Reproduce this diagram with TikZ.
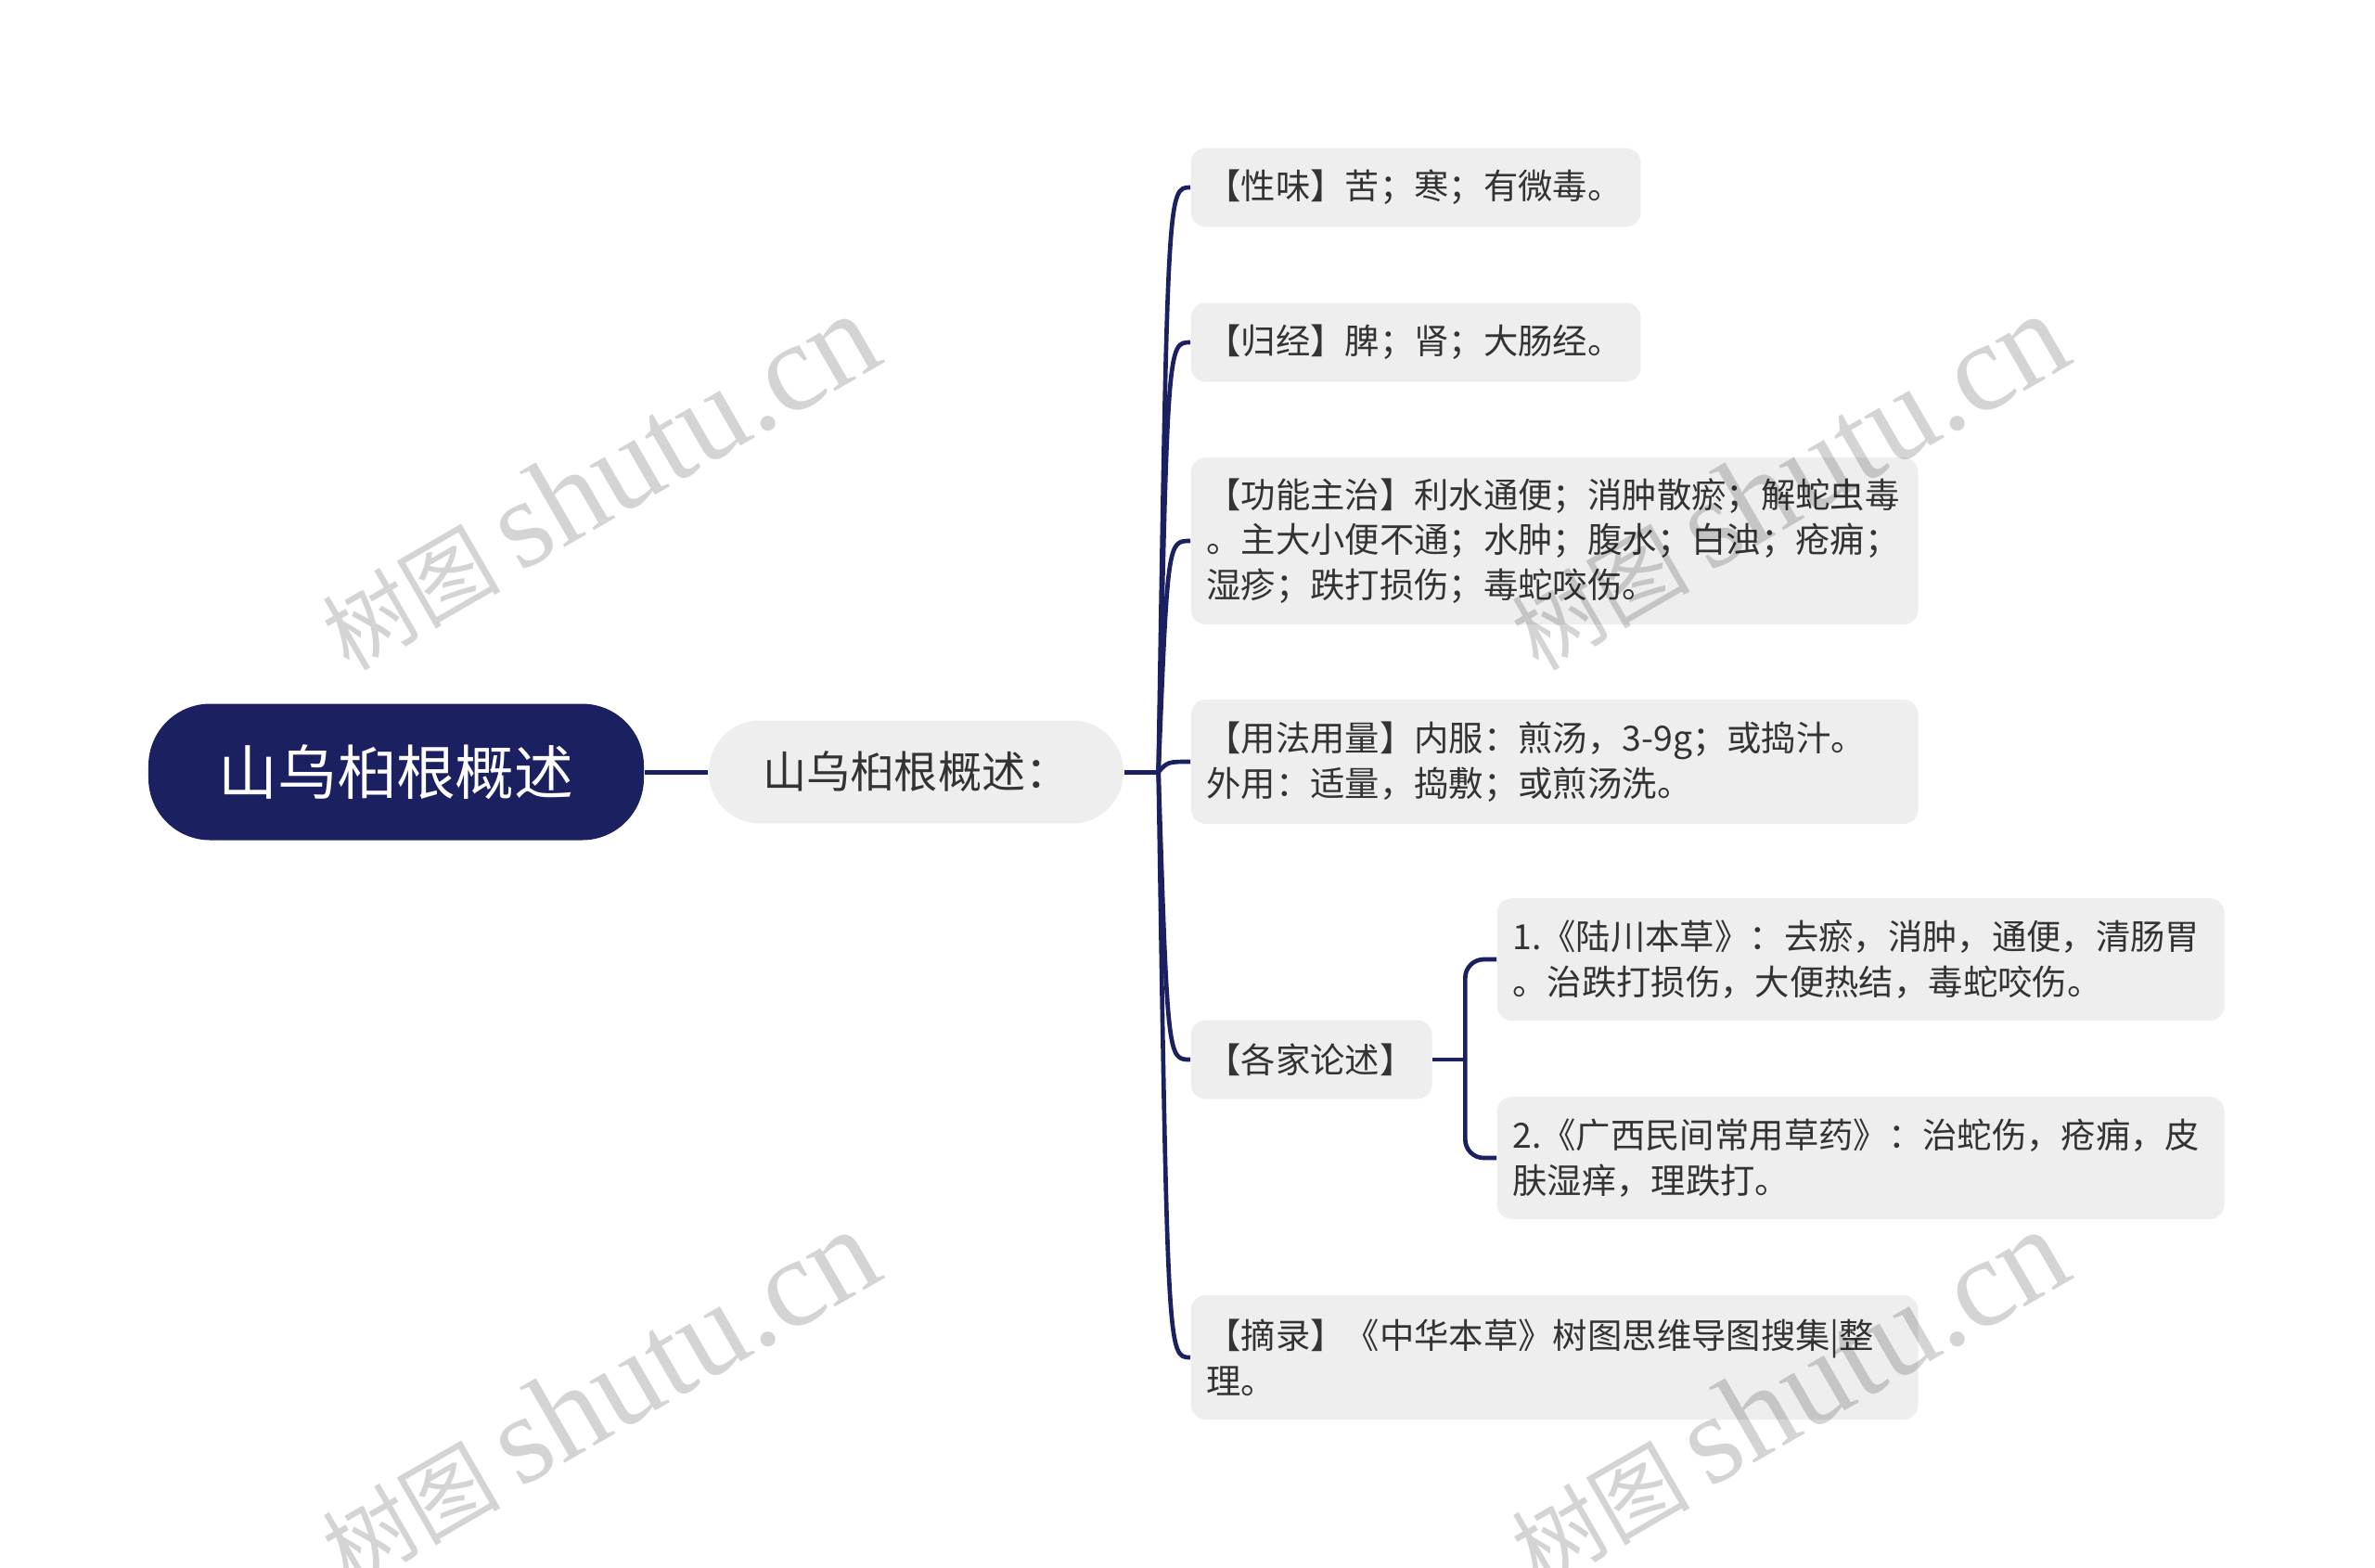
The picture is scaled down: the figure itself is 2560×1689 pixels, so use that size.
\documentclass[tikz,border=0pt]{standalone}
\usepackage{fontspec}
\usetikzlibrary{calc}
\newfontfamily\cjk{Noto Sans CJK SC}
\newfontfamily\wmlatin{Liberation Serif}
\definecolor{MapNavy}{HTML}{1B2061}
\definecolor{MapBox}{HTML}{EEEEEE}
\definecolor{MapInk}{HTML}{333333}
\tikzset{
  trunk/.style={MapNavy,line width=1.5bp},
  branch/.style={MapNavy,line width=1.4bp},
  rootnode/.style={fill=MapNavy,text=white,rounded corners=20bp,inner sep=0pt,
                   minimum width=160.2bp,minimum height=44.1bp,
                   font=\cjk\fontsize{19.2}{23}\selectfont},
  topic/.style={fill=MapBox,text=MapInk,rounded corners=16.5bp,inner sep=0pt,
                minimum width=134.1bp,minimum height=33.3bp,
                font=\cjk\fontsize{14.2}{17}\selectfont},
  leaf/.style={fill=MapBox,text=MapInk,rounded corners=4.8bp,anchor=west,align=left,
               inner xsep=5.0bp,inner ysep=0pt,font=\cjk\fontsize{11.25}{14.7}\selectfont},
  leafnarrow/.style={leaf,text width=135.5bp},
  leafwide/.style={leaf,text width=225.2bp},
  leafshort/.style={leaf,text width=68bp},
  watermark/.style={rotate=30,text=black,text opacity=0.17,inner sep=0pt},
}

\begin{document}
\begin{tikzpicture}[x=0.3bp,y=-0.3bp]
    \useasboundingbox (0,0) rectangle (2560,1689);
    \node[rootnode] (root) at (427,832) {山乌桕根概述};
    \node[topic] (ov) at (987.5,832) {山乌桕根概述：};
    \coordinate (hub) at ($(ov.east)+(37,0)$);
    \node[leafnarrow,minimum height=25.5bp] (xw) at (1283,202) {【性味】苦；寒；有微毒。};
    \node[leafnarrow,minimum height=25.5bp] (gj) at (1283,369) {【归经】脾；肾；大肠经。};
    \node[leafwide,minimum height=54bp] (gn) at (1283,583)
      {【功能主治】利水通便；消肿散瘀；解蛇虫毒\\。主大小便不通；水肿；腹水；白浊；疮痈；\\湿疹；跌打损伤；毒蛇咬伤。};
    \node[leafwide,minimum height=40.2bp] (yf) at (1283,821)
      {【用法用量】内服：煎汤，3-9g；或捣汁。\\外用：适量，捣敷；或煎汤洗。};
    \node[leafshort,minimum height=25.5bp] (gd) at (1283,1142) {【各家论述】};
    \node[leafwide,minimum height=40.2bp] (zl) at (1283,1463)
      {【摘录】《中华本草》树图思维导图搜集|整\\理。};
    \node[leafwide,minimum height=39.6bp] (lc) at (1613,1034)
      {1.《陆川本草》：去瘀，消肿，通便，清肠胃\\。治跌打损伤，大便热结，毒蛇咬伤。};
    \node[leafwide,minimum height=39.6bp] (gx) at (1613,1248)
      {2.《广西民间常用草药》：治蛇伤，疮痈，皮\\肤湿痒，理跌打。};
    \coordinate (gdhub) at ($(gd.east)+(35,0)$);

    \draw[trunk] (root.east) -- (ov.west);
    \draw[trunk] (ov.east) -- (hub);
    \foreach \leafname in {xw,gj,gn,yf,gd,zl}
      \draw[branch] (hub) .. controls ($(hub |- \leafname.west)+(10,0)$) .. (\leafname.west);
    \draw[branch] (gd.east) -- (gdhub);
    \draw[branch,rounded corners=6bp] (lc.west) -| (gdhub) |- (gx.west);

    \foreach \wx/\wy [count=\wi] in {645/519,1927/519,645/1506,1927/1506}
      \node[watermark] (wm\wi) at (\wx,\wy)
        {{\cjk\fontsize{29}{29}\selectfont 树图}\hspace{6bp}{\wmlatin\fontsize{41}{41}\selectfont shutu.cn}};
  \end{tikzpicture}
\end{document}
